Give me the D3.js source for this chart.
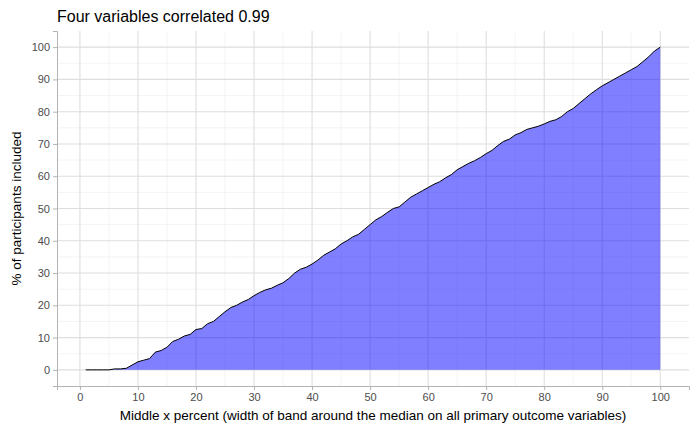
<!DOCTYPE html>
<html><head><meta charset="utf-8">
<script src="https://cdn.jsdelivr.net/npm/d3@7"></script>
<style>body{margin:0;background:#fff;font-family:Arial,"Liberation Sans",sans-serif;}</style>
</head><body><div id="vis"></div>
<script>
const W = 700, H = 432;
const M = {top: 31, right: 11, bottom: 46, left: 57};

const xValues = d3.range(1, 101);
const pctIncluded = [0,0,0,0,0,0.3,0.3,0.5,1.5,2.5,3,3.5,5.5,6,7,8.8,9.5,10.5,11,12.5,
  12.8,14.3,15,16.5,18,19.3,20,21,21.8,23,24,24.8,25.3,26.2,27,28.3,30,31.2,31.8,32.8,
  34,35.5,36.5,37.5,39,40,41.2,42,43.5,45,46.5,47.5,48.8,50,50.5,52,53.5,54.5,55.5,56.5,
  57.5,58.3,59.5,60.5,62,63,64,64.8,65.8,67,68,69.5,70.8,71.5,72.8,73.5,74.5,75,75.5,76.2,
  77,77.5,78.5,80,81,82.5,84,85.5,86.8,88,89,90,91,92,93,94,95.5,97,98.8,100];
const xTicks = d3.range(0, 101, 10);
const yTicks = d3.range(0, 101, 10);
const data = xValues.map((x, i) => ({x: x, y: pctIncluded[i]}));

const svg = d3.select("#vis").append("svg").attr("width", W).attr("height", H);
const x = d3.scaleLinear().domain([-3.95, 104.95]).range([M.left, W - M.right]);
const y = d3.scaleLinear().domain([-5, 105]).range([H - M.bottom, M.top]);

// grid
const g = svg.append("g");
d3.range(5, 101, 10).forEach(v => {
  g.append("line").attr("x1", x(v)).attr("x2", x(v)).attr("y1", M.top).attr("y2", H - M.bottom)
    .attr("stroke", "#ededed").attr("stroke-width", 0.6);
  g.append("line").attr("y1", y(v)).attr("y2", y(v)).attr("x1", M.left).attr("x2", W - M.right)
    .attr("stroke", "#ededed").attr("stroke-width", 0.6);
});
xTicks.forEach(v => g.append("line").attr("x1", x(v)).attr("x2", x(v)).attr("y1", M.top).attr("y2", H - M.bottom)
  .attr("stroke", "#dedede").attr("stroke-width", 1.1));
yTicks.forEach(v => g.append("line").attr("y1", y(v)).attr("y2", y(v)).attr("x1", M.left).attr("x2", W - M.right)
  .attr("stroke", "#dedede").attr("stroke-width", 1.1));

svg.append("path").datum(data)
  .attr("fill", "rgba(0,0,255,0.5)")
  .attr("d", d3.area().x(d => x(d.x)).y0(y(0)).y1(d => y(d.y)));
svg.append("path").datum(data)
  .attr("fill", "none").attr("stroke", "#000").attr("stroke-width", 1)
  .attr("d", d3.line().x(d => x(d.x)).y(d => y(d.y)));

const xa = svg.append("g").attr("transform", `translate(0,${H - M.bottom})`)
  .call(d3.axisBottom(x).tickValues(xTicks).tickSize(4).tickPadding(3));
const ya = svg.append("g").attr("transform", `translate(${M.left},0)`)
  .call(d3.axisLeft(y).tickValues(yTicks).tickSize(4).tickPadding(3));
[xa, ya].forEach(a => {
  a.select(".domain").attr("stroke", "#b3b3b3");
  a.selectAll(".tick line").attr("stroke", "#b3b3b3");
  a.selectAll("text").attr("fill", "#4d4d4d").attr("font-size", 11).attr("font-family", "Arial, Liberation Sans, sans-serif");
});

svg.append("text").attr("x", M.left).attr("y", 22).attr("font-size", 16).text("Four variables correlated 0.99");
svg.append("text").attr("x", (M.left + W - M.right) / 2).attr("y", 420).attr("text-anchor", "middle")
  .attr("font-size", 13.5).text("Middle x percent (width of band around the median on all primary outcome variables)");
svg.append("text").attr("transform", `translate(21,${(M.top + H - M.bottom) / 2}) rotate(-90)`)
  .attr("text-anchor", "middle").attr("font-size", 13.5).text("% of participants included");
</script></body></html>
